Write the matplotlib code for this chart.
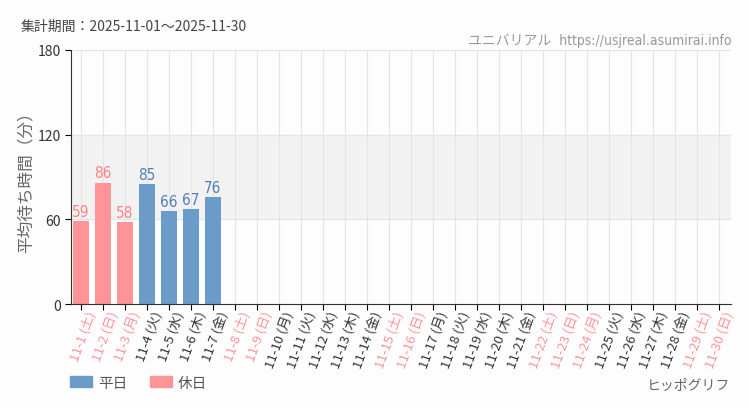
import matplotlib.pyplot as plt
from matplotlib.patches import Patch
from matplotlib.transforms import ScaledTranslation

plt.rcParams['font.family'] = ['Noto Sans CJK JP', 'DejaVu Sans']

days = [f"11-{d}" for d in range(1, 31)]
weekdays = ["土", "日", "月", "火", "水", "木", "金"]
holidays = [1, 2, 3, 8, 9, 15, 16, 22, 23, 24, 29, 30]
values = [59, 86, 58, 85, 66, 67, 76]

blue = "#6b9bc8"
pink = "#ff9497"
blue_txt = "#4f7fb4"
pink_txt = "#ff8086"

fig = plt.figure(figsize=(7.5, 4.1), dpi=100)
fig.patch.set_facecolor("#fdfdfd")
ax = fig.add_axes([0.0947, 0.256, 0.88, 0.62])
ax.set_facecolor("#fdfdfd")

x = list(range(len(days)))
ax.axhspan(60, 120, color="#f2f2f2", zorder=0)
for i in x:
    ax.axvline(i, color="#e4e4e4", lw=0.8, zorder=0)
for v in (60, 120, 180):
    ax.axhline(v, color="#e4e4e4", lw=0.8, zorder=0)

for i, v in enumerate(values):
    hol = (i + 1) in holidays
    ax.bar(i, v, width=0.72, color=pink if hol else blue, zorder=2)
    ax.text(i, v + 1.5, str(v), ha="center", va="bottom", fontsize=11,
            color=pink_txt if hol else blue_txt, family="DejaVu Sans",
            fontstretch="condensed", zorder=3)

ax.set_xlim(-0.45, 29.55)
ax.set_ylim(0, 180)
ax.set_yticks([0, 60, 120, 180])
ax.tick_params(axis="y", labelsize=10, labelcolor="#333333", length=4)
ax.tick_params(axis="x", length=4, pad=2)
for s in ("top", "right"):
    ax.spines[s].set_visible(False)
ax.spines["left"].set_color("#333333")
ax.spines["bottom"].set_color("#333333")

labels = [f"{d} ({weekdays[i % 7]})" for i, d in enumerate(days)]
ax.set_xticks(x)
ax.set_xticklabels(labels, rotation=70, ha="right", va="center",
                   rotation_mode="anchor", fontsize=9.5)
shift = ScaledTranslation(11 / 100, 1 / 100, fig.dpi_scale_trans)
for i, t in enumerate(ax.get_xticklabels()):
    t.set_color(pink if (i + 1) in holidays else "#333333")
    t.set_transform(t.get_transform() + shift)

ax.set_ylabel("平均待ち時間（分）", fontsize=12, color="#666666", labelpad=2)

fig.text(0.027, 0.925, "集計期間：2025-11-01～2025-11-30", fontsize=10, color="#444444")
fig.text(0.975, 0.89, "ユニバリアル  https://usjreal.asumirai.info", fontsize=10,
         color="#999999", ha="right", family=["DejaVu Sans", "Noto Sans CJK JP"],
         fontstretch="condensed")
fig.text(0.973, 0.05, "ヒッポグリフ", fontsize=10, color="#666666", ha="right")

handles = [Patch(color=blue, label="平日"), Patch(color=pink, label="休日")]
fig.legend(handles=handles, loc="lower left", bbox_to_anchor=(0.076, 0.015), ncol=2,
           frameon=False, fontsize=10.5, handlelength=1.5, handleheight=0.8,
           handletextpad=0.4, labelcolor="#555555", columnspacing=1.6)

fig.savefig("out.png", dpi=100, facecolor=fig.get_facecolor())
